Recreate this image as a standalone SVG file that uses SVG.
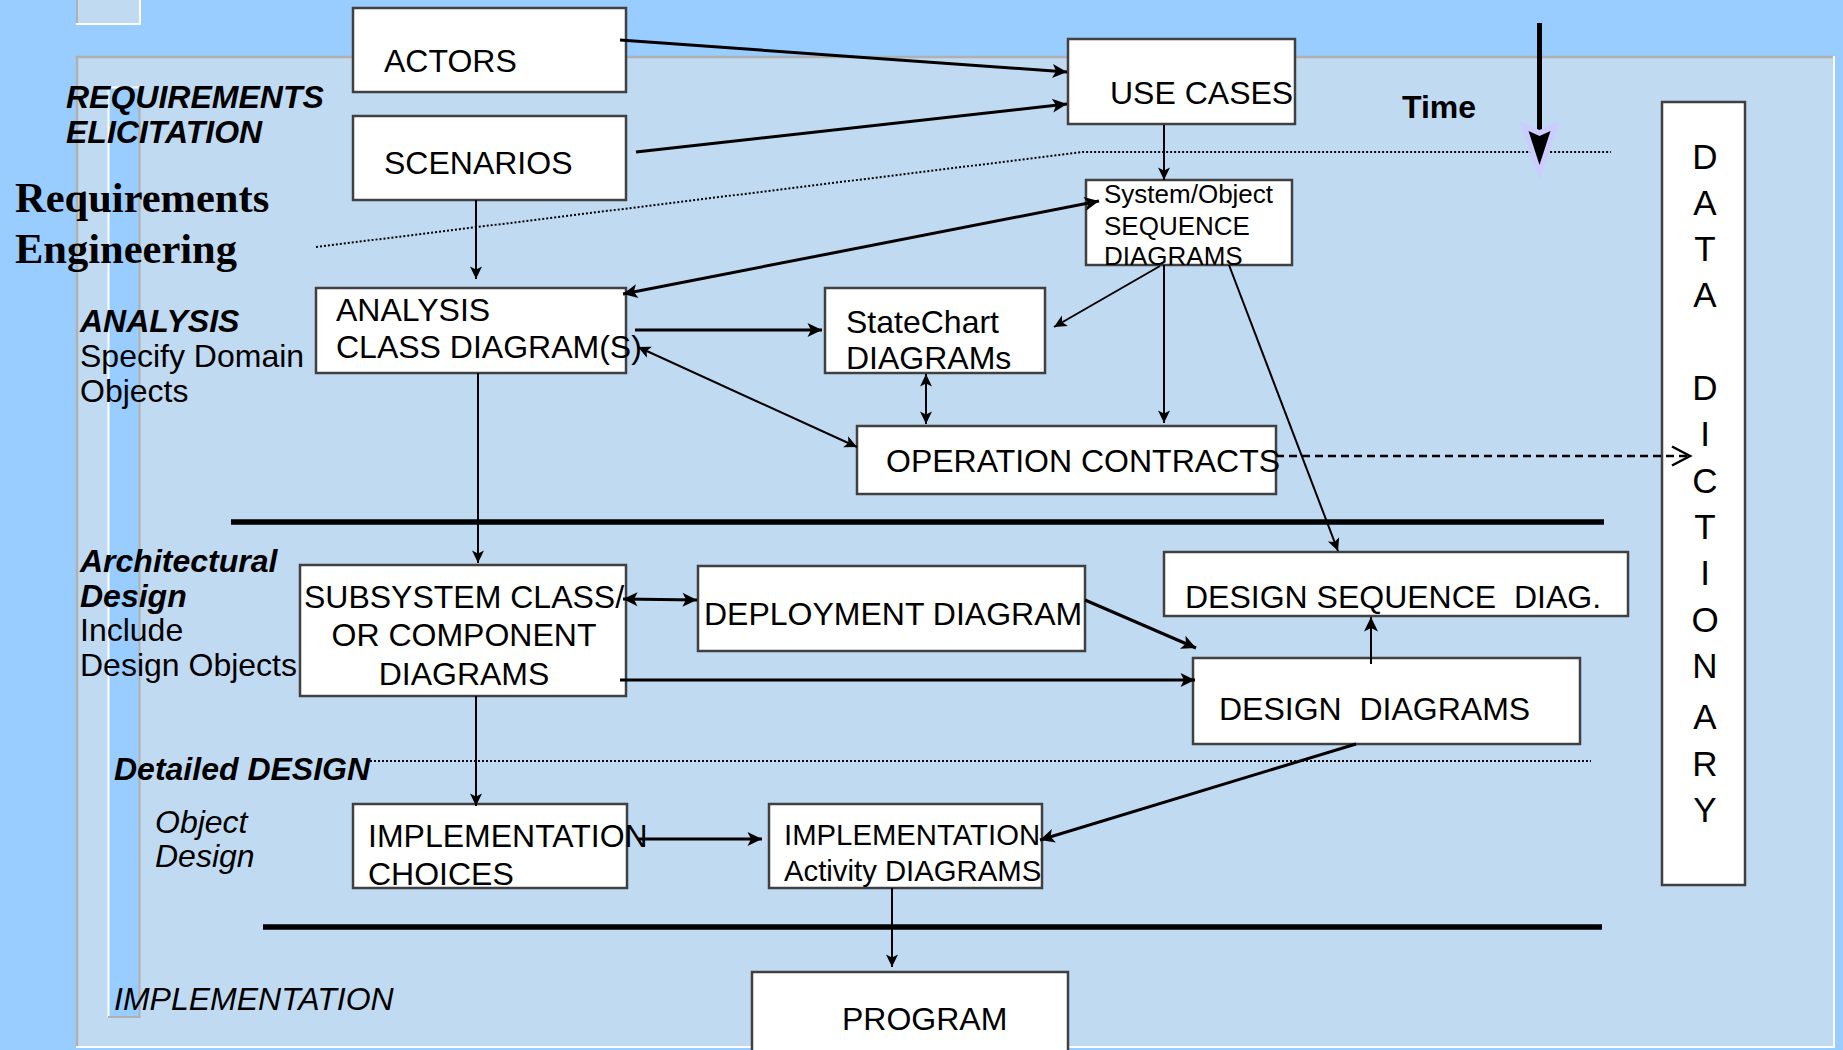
<svg xmlns="http://www.w3.org/2000/svg" width="1843" height="1050" viewBox="0 0 1843 1050">
<style>
.t{font-family:"Liberation Sans",Arial,sans-serif;font-size:32px;fill:#000}
.bi{font-weight:bold;font-style:italic}
.b{font-weight:bold}
.i{font-style:italic}
.sm{font-size:26px}
.md{font-size:29.3px}
.lg{font-size:35px}
.s{font-family:"Liberation Serif","Times New Roman",serif;font-weight:bold;font-size:42.5px;fill:#000}
.box{fill:#fff;stroke:#404040;stroke-width:2.5}
.c3{stroke:#000;stroke-width:3;fill:none}
.c2{stroke:#000;stroke-width:2;fill:none}
.dot{stroke:#000;stroke-width:2;stroke-dasharray:2 2;fill:none}
.thick{stroke:#000;stroke-width:5.5}
</style>
<defs>
<marker id="a3" markerUnits="userSpaceOnUse" markerWidth="17" markerHeight="17" viewBox="0 0 17 17" refX="15.5" refY="8.5" orient="auto-start-reverse"><path d="M1,1.5 L15.5,8.5 L1,15.5 L4.5,8.5 z" fill="#000"/></marker>
<marker id="a2" markerUnits="userSpaceOnUse" markerWidth="15" markerHeight="15" viewBox="0 0 15 15" refX="13.5" refY="7.5" orient="auto-start-reverse"><path d="M1,1.5 L13.5,7.5 L1,13.5 L4,7.5 z" fill="#000"/></marker>
<marker id="open" markerUnits="userSpaceOnUse" markerWidth="22" markerHeight="24" viewBox="0 0 22 24" refX="19" refY="12" orient="auto"><path d="M1,2.5 L19,12 L1,21.5" fill="none" stroke="#000" stroke-width="2.5"/></marker>
</defs>

<g id="background">
<rect x="0" y="0" width="1843" height="1050" fill="#99ccff"/>
<rect x="76" y="-2" width="64" height="26" fill="#c0daf2"/>
<path d="M77,0 V24" stroke="#b0b0b0" stroke-width="2"/>
<path d="M76,24 H140 V0" stroke="#fff" stroke-width="2" fill="none"/>
<rect x="76" y="56" width="1758" height="991" fill="#c0daf2"/>
<path d="M77,1047 V57 H1834" stroke="#b0b0b0" stroke-width="2.5" fill="none"/>
<path d="M1834,56 V1047 H76" stroke="#fff" stroke-width="2" fill="none"/>
<rect x="108" y="87" width="32" height="930" fill="#99ccff"/>
<path d="M108.5,1017 V87.5 H140" stroke="#fff" stroke-width="2" fill="none"/>
<path d="M139.5,87 V1017 H108" stroke="#b0b0b0" stroke-width="2" fill="none"/>
</g>

<g id="labels">
<text class="t bi" x="66" y="108">REQUIREMENTS</text>
<text class="t bi" x="66" y="143">ELICITATION</text>
<text class="s" x="15" y="212">Requirements</text>
<text class="s" x="15" y="263">Engineering</text>
<text class="t bi" x="80" y="332">ANALYSIS</text>
<text class="t" x="80" y="367">Specify Domain</text>
<text class="t" x="80" y="402">Objects</text>
<text class="t bi" x="80" y="572">Architectural</text>
<text class="t bi" x="80" y="607">Design</text>
<text class="t" x="80" y="641">Include</text>
<text class="t" x="80" y="676">Design Objects</text>
<text class="t bi" x="114" y="780">Detailed DESIGN</text>
<text class="t i" x="155" y="833">Object</text>
<text class="t i" x="155" y="867">Design</text>
<text class="t i" x="114" y="1010">IMPLEMENTATION</text>
<text class="t b" x="1402" y="118">Time</text>
<path d="M316,247 L1083,152 H1611" class="dot"/>
<path d="M370,761 H1591" class="dot"/>
<line x1="231" y1="522" x2="1604" y2="522" class="thick"/>
<line x1="263" y1="927" x2="1602" y2="927" class="thick"/>
<g id="time-arrow">
<line x1="1539.5" y1="23" x2="1539.5" y2="134" stroke="#000" stroke-width="5"/>
<path d="M1539.5,180 L1519.5,121 L1539.5,130 L1559.5,121 z" fill="#ccccff"/>
<path d="M1539.5,165 L1528.5,131 L1539.5,136 L1550.5,131 z" fill="#000"/>
</g>
</g>

<g id="n-actors"><rect class="box" x="353" y="8" width="273" height="84"/><text class="t" x="384" y="72">ACTORS</text></g>
<g id="n-scenarios"><rect class="box" x="353" y="116" width="273" height="84"/><text class="t" x="384" y="174">SCENARIOS</text></g>
<g id="n-usecases"><rect class="box" x="1068" y="39" width="227" height="85"/><text class="t" x="1110" y="104">USE CASES</text></g>
<g id="n-sysobj"><rect class="box" x="1086" y="180" width="206" height="85"/><text class="t sm" x="1104" y="203">System/Object</text><text class="t sm" x="1104" y="235">SEQUENCE</text><text class="t sm" x="1104" y="265">DIAGRAMS</text></g>
<g id="n-analysis"><rect class="box" x="316" y="288" width="310" height="85"/><text class="t" x="336" y="321">ANALYSIS</text><text class="t" x="336" y="358">CLASS DIAGRAM(S)</text></g>
<g id="n-statechart"><rect class="box" x="825" y="288" width="220" height="85"/><text class="t" x="846" y="333">StateChart</text><text class="t" x="846" y="369">DIAGRAMs</text></g>
<g id="n-opcontracts"><rect class="box" x="857" y="426" width="419" height="68"/><text class="t" x="886" y="472">OPERATION CONTRACTS</text></g>
<g id="n-dictionary"><rect class="box" x="1662" y="102" width="83" height="783"/>
<text class="t lg" text-anchor="middle"><tspan x="1705" y="169">D</tspan><tspan x="1705" y="215">A</tspan><tspan x="1705" y="261">T</tspan><tspan x="1705" y="307">A</tspan><tspan x="1705" y="400">D</tspan><tspan x="1705" y="446">I</tspan><tspan x="1705" y="493">C</tspan><tspan x="1705" y="539">T</tspan><tspan x="1705" y="585">I</tspan><tspan x="1705" y="632">O</tspan><tspan x="1705" y="678">N</tspan><tspan x="1705" y="729">A</tspan><tspan x="1705" y="776">R</tspan><tspan x="1705" y="822">Y</tspan></text></g>
<g id="n-designseq"><rect class="box" x="1164" y="552" width="464" height="64"/><text class="t" x="1185" y="608" xml:space="preserve">DESIGN SEQUENCE  DIAG.</text></g>
<g id="n-subsystem"><rect class="box" x="300" y="565" width="326" height="131"/><text class="t" text-anchor="middle" x="464" y="608">SUBSYSTEM CLASS/</text><text class="t" text-anchor="middle" x="464" y="646">OR COMPONENT</text><text class="t" text-anchor="middle" x="464" y="685">DIAGRAMS</text></g>
<g id="n-deployment"><rect class="box" x="698" y="566" width="387" height="85"/><text class="t" x="704" y="625">DEPLOYMENT DIAGRAM</text></g>
<g id="n-designdiagrams"><rect class="box" x="1193" y="658" width="387" height="86"/><text class="t" x="1219" y="720" xml:space="preserve">DESIGN  DIAGRAMS</text></g>
<g id="n-implchoices"><rect class="box" x="353" y="804" width="274" height="84"/><text class="t" x="368" y="847">IMPLEMENTATION</text><text class="t" x="368" y="885">CHOICES</text></g>
<g id="n-implactivity"><rect class="box" x="769" y="804" width="273" height="84"/><text class="t md" x="784" y="845">IMPLEMENTATION</text><text class="t md" x="784" y="881">Activity DIAGRAMS</text></g>
<g id="n-program"><rect class="box" x="752" y="972" width="316" height="95"/><text class="t" x="842" y="1030">PROGRAM</text></g>

<g id="connectors">
<line class="c3" x1="620" y1="40" x2="1067" y2="72" marker-end="url(#a3)"/>
<line class="c3" x1="636" y1="152" x2="1067" y2="104" marker-end="url(#a3)"/>
<line class="c2" x1="1164" y1="125" x2="1164" y2="180" marker-end="url(#a2)"/>
<line class="c2" x1="476" y1="200" x2="476" y2="279" marker-end="url(#a2)"/>
<line class="c3" x1="623" y1="294" x2="1099" y2="201" marker-start="url(#a3)" marker-end="url(#a3)"/>
<line class="c3" x1="635" y1="330" x2="822" y2="330" marker-end="url(#a3)"/>
<line class="c2" x1="1160" y1="266" x2="1054" y2="327" marker-end="url(#a2)"/>
<line class="c2" x1="1164" y1="265" x2="1164" y2="423" marker-end="url(#a2)"/>
<line class="c2" x1="926" y1="374" x2="926" y2="424" marker-start="url(#a2)" marker-end="url(#a2)"/>
<line class="c2" x1="638" y1="347" x2="857" y2="447" marker-start="url(#a2)" marker-end="url(#a2)"/>
<line x1="1276" y1="456" x2="1690" y2="456" stroke="#000" stroke-width="2.5" stroke-dasharray="8 5" marker-end="url(#open)"/>
<line class="c2" x1="1229" y1="265" x2="1338" y2="551" marker-end="url(#a2)"/>
<line class="c2" x1="478" y1="373" x2="478" y2="563" marker-end="url(#a2)"/>
<line class="c3" x1="623" y1="599" x2="697" y2="600" marker-start="url(#a3)" marker-end="url(#a3)"/>
<line class="c3" x1="1085" y1="600" x2="1196" y2="648" marker-end="url(#a3)"/>
<line class="c3" x1="620" y1="680" x2="1195" y2="680" marker-end="url(#a3)"/>
<line class="c2" x1="1371" y1="664" x2="1371" y2="617" stroke-width="2.5" marker-end="url(#a3)"/>
<line class="c2" x1="476" y1="696" x2="476" y2="806" marker-end="url(#a2)"/>
<line class="c3" x1="638" y1="839" x2="762" y2="839" marker-end="url(#a3)"/>
<line class="c3" x1="1356" y1="744" x2="1040" y2="840" marker-end="url(#a3)"/>
<line class="c2" x1="892" y1="888" x2="892" y2="967" marker-end="url(#a2)"/>
</g>
</svg>
